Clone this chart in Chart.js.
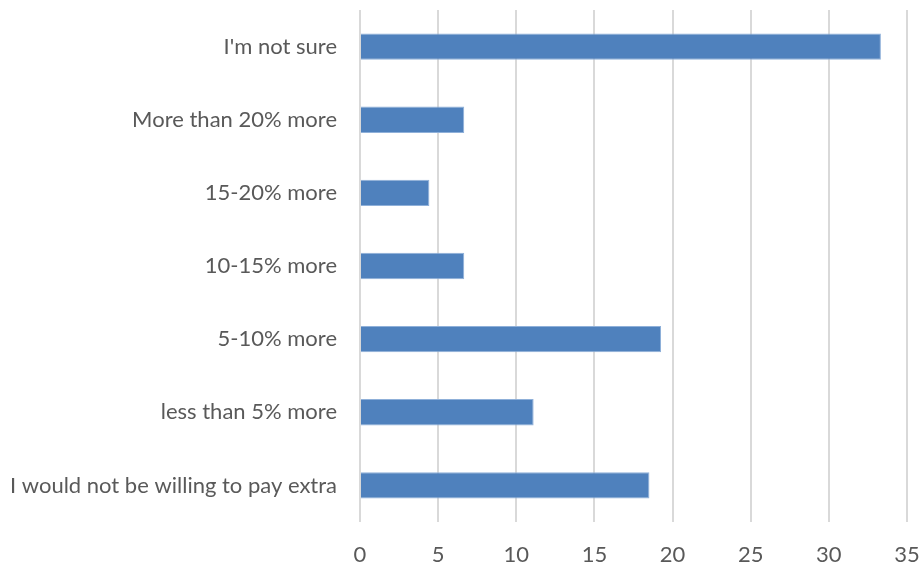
<!DOCTYPE html>
<html>
<head>
<meta charset="utf-8">
<script src="https://cdn.jsdelivr.net/npm/chart.js@4"></script>
<style>
  html, body { margin: 0; padding: 0; background: #fff; }
  #wrap { width: 921px; height: 565px; }
</style>
</head>
<body>
<div id="wrap"><canvas id="chart" width="921" height="565"></canvas></div>
<script>
// ===== Data =====
const categories = [
  "I'm not sure",
  "More than 20% more",
  "15-20% more",
  "10-15% more",
  "5-10% more",
  "less than 5% more",
  "I would not be willing to pay extra"
];
const values = [33.33, 6.67, 4.44, 6.67, 19.26, 11.11, 18.52];
const xTicks = [0, 5, 10, 15, 20, 25, 30, 35];

const textColor = "#595959";
const fontFamily = "Lato, 'Open Sans', sans-serif";

// drop the extra padding chart.js reserves for edge labels
function noEdgePadding(scale) {
  scale.paddingTop = 0;
  scale.paddingBottom = 0;
  scale.paddingLeft = 0;
  scale.paddingRight = 0;
}

// ===== Chart =====
const ctx = document.getElementById("chart").getContext("2d");
new Chart(ctx, {
  type: "bar",
  data: {
    labels: categories,
    datasets: [{
      data: values,
      backgroundColor: "#4f81bd",
      borderColor: "#8fb0d9",
      borderWidth: 1,
      barPercentage: 0.36,
      categoryPercentage: 1
    }]
  },
  options: {
    indexAxis: "y",
    responsive: false,
    animation: false,
    layout: { padding: { top: 10, right: 14, bottom: 0, left: 0 } },
    plugins: {
      legend: { display: false },
      tooltip: { enabled: false }
    },
    scales: {
      x: {
        min: xTicks[0],
        max: xTicks[xTicks.length - 1],
        afterBuildTicks: (scale) => { scale.ticks = xTicks.map(v => ({ value: v })); },
        afterFit: (scale) => { scale.height = 43; noEdgePadding(scale); },
        grid: { color: "#d9d9d9", lineWidth: 2, drawTicks: false },
        border: { display: false },
        ticks: {
          padding: 20,
          maxRotation: 0,
          color: textColor,
          font: { family: fontFamily, size: 22 }
        }
      },
      y: {
        afterFit: (scale) => { scale.width = 360; noEdgePadding(scale); },
        grid: { display: false, drawTicks: false },
        border: { display: false },
        ticks: {
          padding: 23,
          color: textColor,
          font: { family: fontFamily, size: 22 }
        }
      }
    }
  }
});
</script>
</body>
</html>
